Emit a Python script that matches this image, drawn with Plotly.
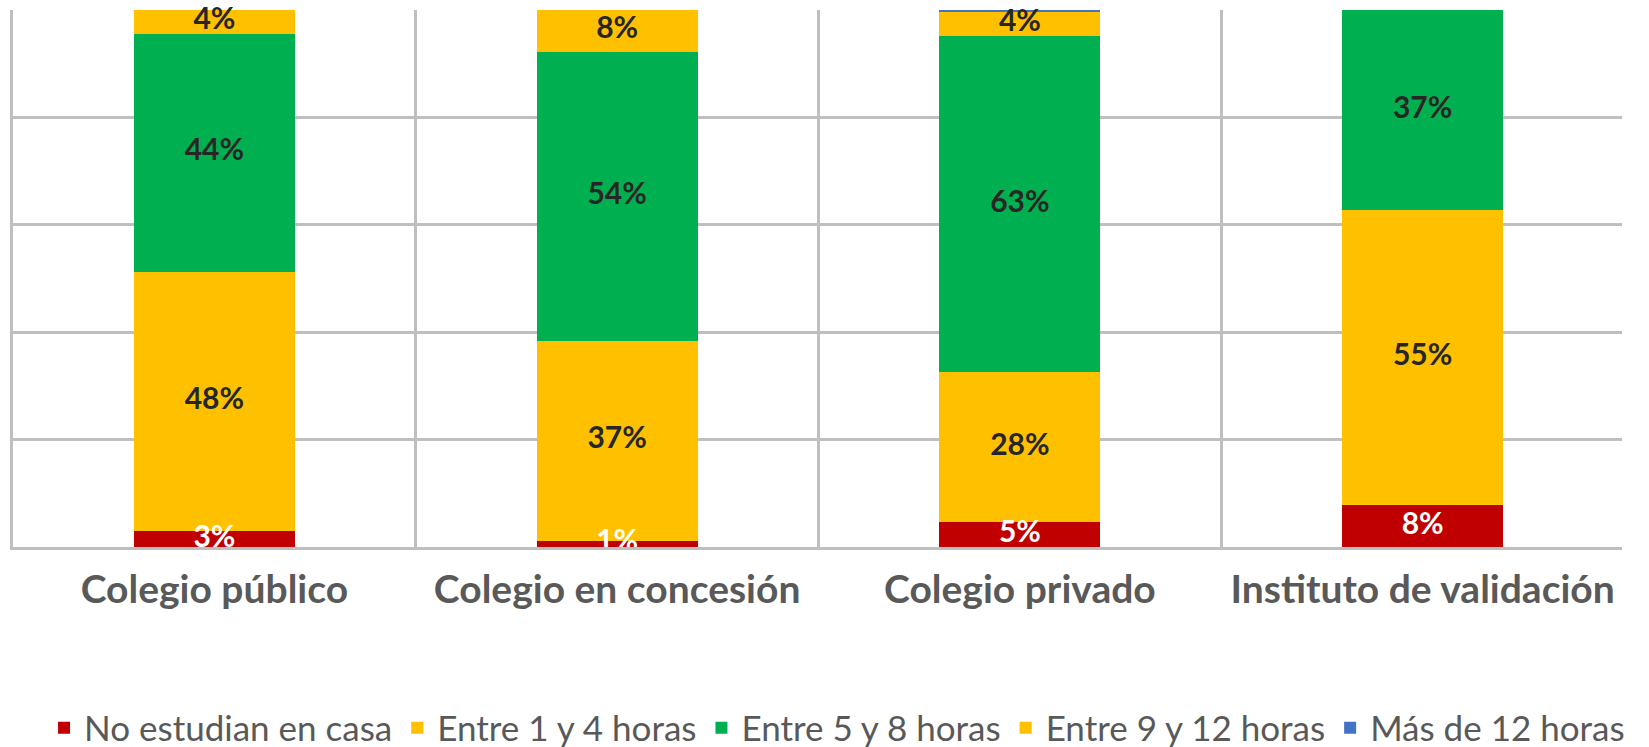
import plotly.graph_objects as go

categories = ["Colegio público", "Colegio en concesión", "Colegio privado", "Instituto de validación"]
series_names = ["No estudian en casa", "Entre 1 y 4 horas", "Entre 5 y 8 horas", "Entre 9 y 12 horas", "Más de 12 horas"]
no_estudian = [2.9, 1.2, 4.6, 7.8]
entre_1_4 = [48.4, 37.2, 27.9, 54.9]
entre_5_8 = [44.3, 53.8, 62.7, 37.3]
entre_9_12 = [4.4, 7.8, 4.4, 0]
mas_12 = [0, 0, 0.4, 0]

series_values = [no_estudian, entre_1_4, entre_5_8, entre_9_12, mas_12]
colors = ["#C00000", "#FFC000", "#00B050", "#FFC000", "#4472C4"]
label_colors = ["#FFFFFF", "#262626", "#262626", "#262626", "#262626"]

FONT = "Lato"
fig = go.Figure()
for name, vals, col in zip(series_names, series_values, colors):
    fig.add_trace(go.Bar(
        name=name, x=categories, y=vals, marker=dict(color=col, line=dict(width=0)),
        hoverinfo="skip",
    ))

# data labels centred in each segment
base = [0.0] * len(categories)
for vals, lcol in zip(series_values, label_colors):
    mids = [b + v / 2 for b, v in zip(base, vals)]
    texts = [f"{round(v)}%" if v >= 1 else "" for v in vals]
    fig.add_trace(go.Scatter(
        x=categories, y=mids, text=texts, mode="text", cliponaxis=False,
        textposition="middle center", showlegend=False, hoverinfo="skip",
        textfont=dict(family=FONT, size=30, color=lcol, weight="bold"),
    ))
    base = [b + v for b, v in zip(base, vals)]

fig.update_layout(
    barmode="stack", bargap=0.6,
    width=1649, height=747,
    margin=dict(l=13, r=27, t=10, b=200, autoexpand=False),
    plot_bgcolor="white", paper_bgcolor="white",
    font=dict(family=FONT, color="#595959"),
    legend=dict(orientation="h", xref="container", yref="container",
                x=0.5076, xanchor="center", y=0.0254, yanchor="middle",
                traceorder="normal", font=dict(family=FONT, size=35, color="#595959"),
                itemwidth=30),
)
fig.update_xaxes(
    tickson="boundaries", showgrid=True, gridcolor="#BFBFBF", gridwidth=2.5,
    range=[-0.5, 3.495], ticks="", showline=True, linecolor="#BFBFBF", linewidth=2.5,
    tickfont=dict(family=FONT, size=39, color="#595959", weight="bold"),
    ticklabelstandoff=6, automargin=False,
)
fig.update_yaxes(
    range=[0, 100], dtick=20, showticklabels=False, showgrid=True,
    gridcolor="#BFBFBF", gridwidth=2.5, zeroline=False,
    showline=True, linecolor="#BFBFBF", linewidth=2.5, automargin=False,
)

fig.write_html("out.html", config={"displayModeBar": False},
               post_script="document.body.style.margin='0';document.body.style.overflow='hidden';")
